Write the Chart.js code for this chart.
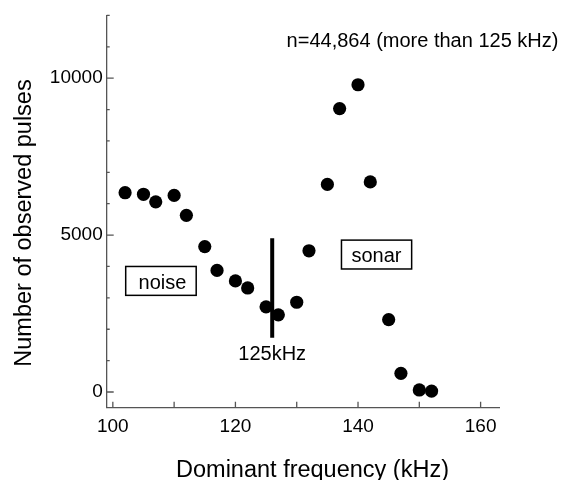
<!DOCTYPE html>
<html>
<head>
<meta charset="utf-8">
<script src="https://cdn.jsdelivr.net/npm/chart.js@4/dist/chart.umd.min.js"></script>
<style>
  html, body { margin: 0; padding: 0; background: #fff; }
  #wrap { width: 567px; height: 480px; }
</style>
</head>
<body>
<div id="wrap"><canvas id="chart" width="567" height="480"></canvas></div>
<script>
// --- data ---
const freqKHz = [102, 105, 107, 110, 112, 115, 117, 120, 122, 125, 127, 130, 132, 135, 137, 140, 142, 145, 147, 150, 152];
const pulseCounts = [6350, 6300, 6060, 6265, 5630, 4635, 3875, 3540, 3315, 2715, 2460, 2860, 4500, 6615, 9030, 9790, 6695, 2305, 595, 65, 30];

// 125 kHz marker line (x, y ends)
const cutLineX = [126, 126];
const cutLineY = [1730, 4900];

// ticks
const xTickValues = [100, 110, 120, 130, 140, 150, 160];
const xTickLabels = ['100', '', '120', '', '140', '', '160'];
const yTickValues = [0, 1000, 2000, 3000, 4000, 5000, 6000, 7000, 8000, 9000, 10000, 11000, 12000];
const yTickLabels = ['0', '', '', '', '', '5000', '', '', '', '', '10000', '', ''];
const yMajor = [0, 5000, 10000];

const xTitle = 'Dominant frequency (kHz)';
const yTitle = 'Number of observed pulses';

// annotation texts, placed in data units
const notes = [
    { text: 'n=44,864 (more than 125 kHz)', x: 128.35, y: 11000, align: 'left' },
    { text: '125kHz', x: 126, y: 1010, align: 'center' },
    { text: 'noise', x: 108.1, y: 3285, align: 'center', box: [102.1, 113.6, 3080, 4000] },
    { text: 'sonar', x: 143.0, y: 4130, align: 'center', box: [137.3, 148.75, 3920, 4840] }
];

const FONT = "'Liberation Sans', Arial, sans-serif";
const AXIS_COLOR = '#555';

const overlay = {
    id: 'overlay',
    afterDraw(chart) {
        const ctx = chart.ctx;
        const xs = chart.scales.x, ys = chart.scales.y;
        const area = chart.chartArea;
        ctx.save();

        // inward tick marks
        ctx.strokeStyle = AXIS_COLOR;
        ctx.lineWidth = 1.3;
        ctx.beginPath();
        xTickValues.forEach(v => {
            const px = xs.getPixelForValue(v);
            ctx.moveTo(px, area.bottom);
            ctx.lineTo(px, area.bottom - 6);
        });
        yTickValues.forEach(v => {
            const py = ys.getPixelForValue(v);
            const len = yMajor.includes(v) ? 7 : 3;
            ctx.moveTo(area.left, py);
            ctx.lineTo(area.left + len, py);
        });
        ctx.stroke();

        // annotation boxes and texts
        ctx.fillStyle = '#000';
        ctx.strokeStyle = '#000';
        ctx.lineWidth = 1.5;
        ctx.font = '20px ' + FONT;
        ctx.textBaseline = 'alphabetic';
        notes.forEach(n => {
            if (n.box) {
                const x0 = xs.getPixelForValue(n.box[0]), x1 = xs.getPixelForValue(n.box[1]);
                const y0 = ys.getPixelForValue(n.box[3]), y1 = ys.getPixelForValue(n.box[2]);
                ctx.strokeRect(x0, y0, x1 - x0, y1 - y0);
            }
            ctx.textAlign = n.align;
            ctx.fillText(n.text, xs.getPixelForValue(n.x), ys.getPixelForValue(n.y));
        });

        // axis titles
        ctx.font = '23.5px ' + FONT;
        ctx.textAlign = 'center';
        ctx.fillText(xTitle, 312.5, 477);
        ctx.translate(30.5, 223);
        ctx.rotate(-Math.PI / 2);
        ctx.fillText(yTitle, 0, 0);
        ctx.restore();
    }
};

new Chart(document.getElementById('chart'), {
    type: 'scatter',
    data: {
        datasets: [
            {
                data: freqKHz.map((f, i) => ({ x: f, y: pulseCounts[i] })),
                backgroundColor: '#000',
                borderWidth: 0,
                pointRadius: 6.6,
                pointHoverRadius: 6.6
            },
            {
                type: 'line',
                data: cutLineX.map((x, i) => ({ x: x, y: cutLineY[i] })),
                borderColor: '#000',
                borderWidth: 4,
                pointRadius: 0,
                borderCapStyle: 'butt',
                fill: false
            }
        ]
    },
    options: {
        responsive: false,
        animation: false,
        devicePixelRatio: 1,
        layout: { padding: { top: 13, right: 68, bottom: 0, left: 0 } },
        plugins: { legend: { display: false }, tooltip: { enabled: false } },
        scales: {
            x: {
                type: 'linear',
                min: 99,
                max: 163,
                grid: { display: false, drawTicks: false, tickLength: 0 },
                border: { display: true, color: AXIS_COLOR, width: 1.3 },
                afterBuildTicks: s => { s.ticks = xTickValues.map(v => ({ value: v })); },
                afterFit: s => { s.height = 72.3; },
                ticks: {
                    padding: 8,
                    color: '#000',
                    font: { family: FONT, size: 19 },
                    maxRotation: 0,
                    autoSkip: false,
                    callback: (v, i) => xTickLabels[i]
                }
            },
            y: {
                type: 'linear',
                min: -500,
                max: 12000,
                grid: { display: false, drawTicks: false, tickLength: 0 },
                border: { display: true, color: AXIS_COLOR, width: 1.3 },
                afterBuildTicks: s => { s.ticks = yTickValues.map(v => ({ value: v })); },
                afterFit: s => { s.width = 106.7; },
                ticks: {
                    padding: 4,
                    color: '#000',
                    font: { family: FONT, size: 19 },
                    autoSkip: false,
                    callback: (v, i) => yTickLabels[i]
                }
            }
        }
    },
    plugins: [overlay]
});
</script>
</body>
</html>
